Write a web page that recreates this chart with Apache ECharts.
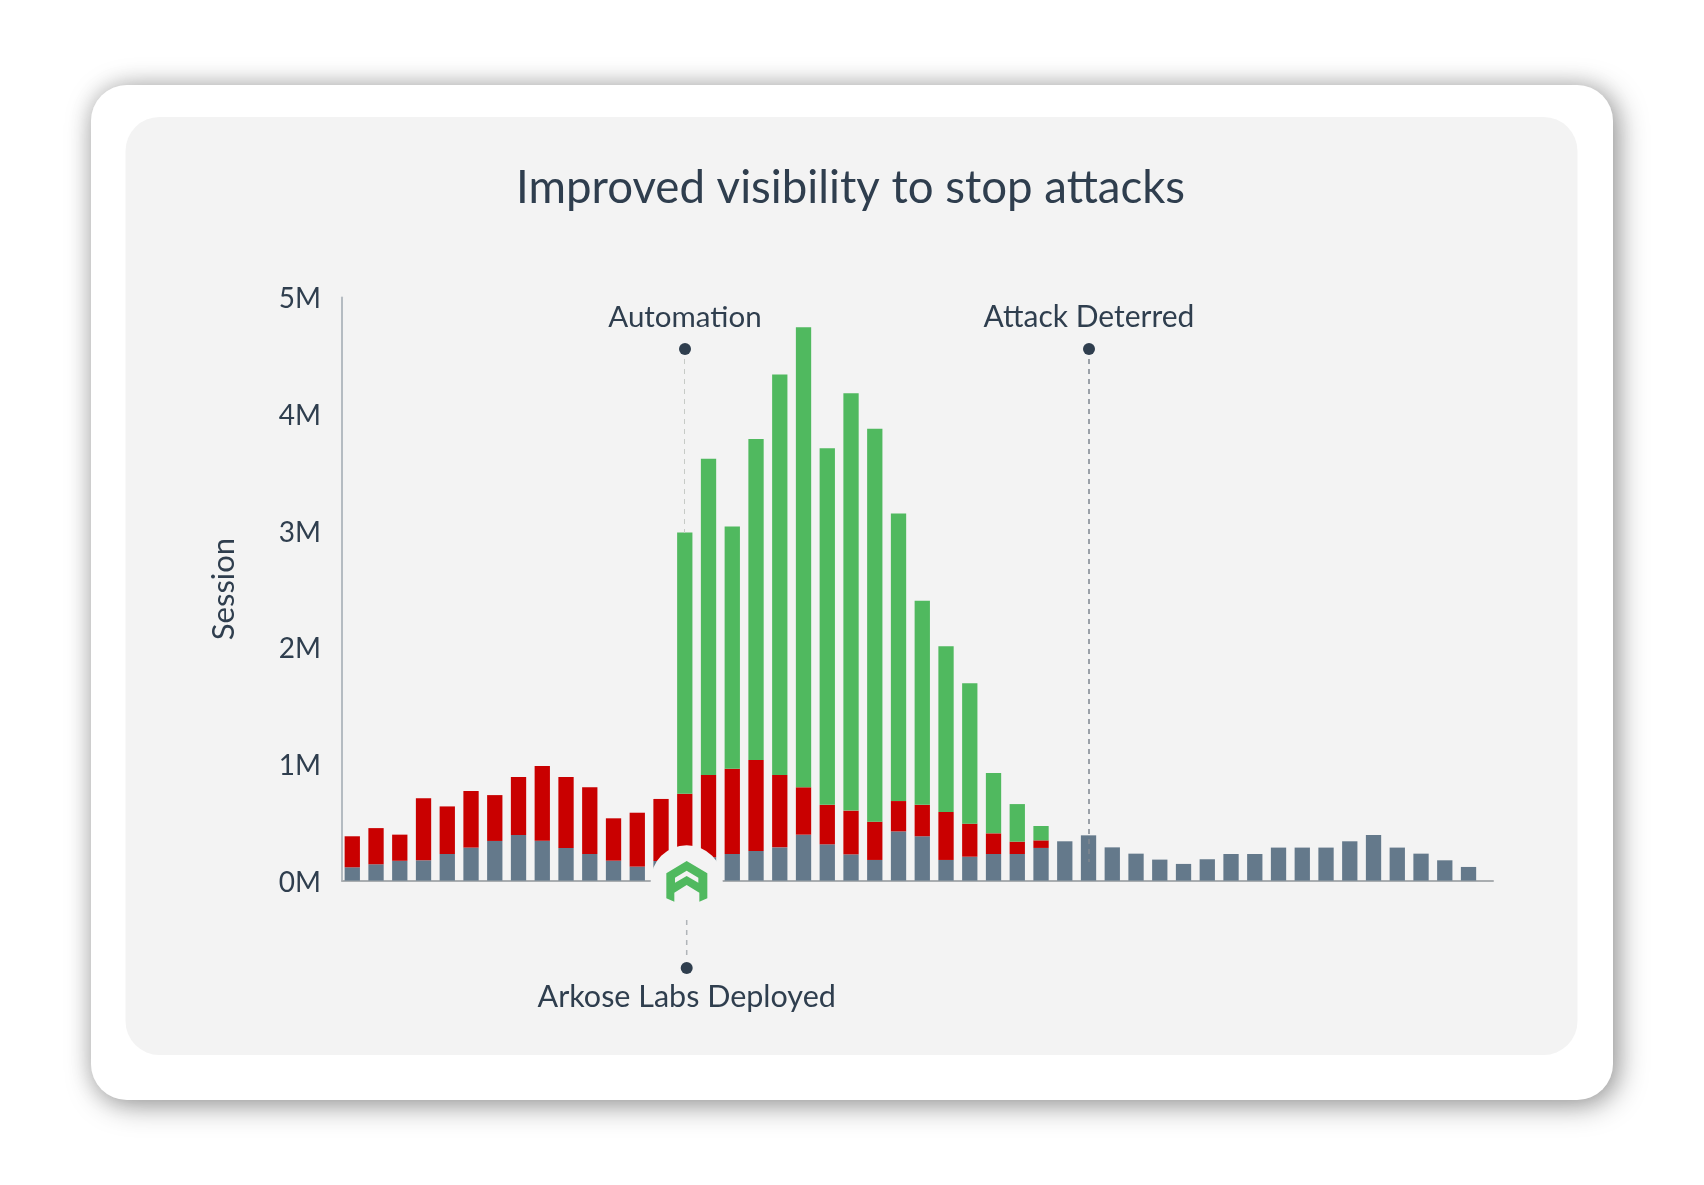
<!DOCTYPE html>
<html>
<head>
<meta charset="utf-8">
<title>Improved visibility to stop attacks</title>
<style>
html, body { margin: 0; padding: 0; background: #fff; }
#chart { width: 1704px; height: 1185px; }
</style>
<script src="https://cdn.jsdelivr.net/npm/echarts@6/dist/echarts.min.js"></script>
</head>
<body>
<div id="chart"></div>
<script>
// values in millions of sessions
var weeks = ['1','2','3','4','5','6','7','8','9','10','11','12','13','14','15','16','17','18','19','20','21','22','23','24','25','26','27','28','29','30','31','32','33','34','35','36','37','38','39','40','41','42','43','44','45','46','47','48'];
var yTicks = [0, 1, 2, 3, 4, 5];

var humanValues = [0.114,0.14,0.17,0.174,0.228,0.283,0.34,0.391,0.342,0.28,0.228,0.171,0.12,0.168,0.14,0.2,0.228,0.254,0.285,0.394,0.311,0.225,0.177,0.422,0.38,0.177,0.205,0.228,0.228,0.28,0.337,0.388,0.285,0.231,0.18,0.143,0.183,0.228,0.228,0.283,0.283,0.283,0.337,0.391,0.283,0.231,0.174,0.117];
var fraudValues = [0.266,0.31,0.224,0.531,0.408,0.485,0.393,0.497,0.64,0.608,0.572,0.363,0.462,0.532,0.605,0.705,0.731,0.779,0.62,0.406,0.339,0.375,0.328,0.26,0.27,0.411,0.283,0.177,0.106,0.065,0,0,0,0,0,0,0,0,0,0,0,0,0,0,0,0,0,0];
var automationValues = [0,0,0,0,0,0,0,0,0,0,0,0,0,0,2.24,2.711,2.077,2.754,3.435,3.945,3.057,3.578,3.368,2.466,1.75,1.422,1.205,0.517,0.322,0.123,0,0,0,0,0,0,0,0,0,0,0,0,0,0,0,0,0,0];

var textColor = '#2f3e4e';

function barSeries(name, values, color) {
	return {
		name: name,
		type: 'bar',
		stack: 'sessions',
		barWidth: 15.3,
		xAxisIndex: 0,
		yAxisIndex: 0,
		data: values,
		itemStyle: { color: color }
	};
}

function note(text, x, y, size) {
	return { type: 'text', z: 60, style: { text: text, x: x, y: y, font: size + 'px Lato', fill: textColor, align: 'center', verticalAlign: 'middle' } };
}
function dot(x, y) {
	return { type: 'circle', z: 60, shape: { cx: x, cy: y, r: 6 }, style: { fill: textColor } };
}
function dashed(x, y1, y2, color, width) {
	return { type: 'line', z: 55, shape: { x1: x, y1: y1, x2: x, y2: y2 }, style: { stroke: color, lineWidth: width, lineDash: [5, 5] } };
}
// logo coordinates are in the 3x crop space, origin 640,830
function logoPts(list) {
	return list.map(function (p) { return [640 + p[0] / 3, 830 + p[1] / 3]; });
}

var chart = echarts.init(document.getElementById('chart'));

chart.setOption({
	animation: false,
	backgroundColor: '#fff',
	title: {
		text: 'Improved visibility to stop attacks',
		left: 845.6,
		top: 160,
		textAlign: 'center',
		textStyle: { color: textColor, fontFamily: 'Lato', fontWeight: 'normal', fontSize: 45.6 }
	},
	// first grid holds the bars, second one only the visible axis lines and labels:
	// the axes run a little wider than the 48 bands
	grid: [
		{ left: 340.4, width: 1140, top: 297.4, height: 583.2 },
		{ left: 342, width: 1151, top: 297.4, height: 583.2 }
	],
	xAxis: [
		{ type: 'category', gridIndex: 0, data: weeks, show: false },
		{
			type: 'value',
			gridIndex: 1,
			min: 0,
			max: 1,
			axisLine: { show: true, lineStyle: { color: '#a9adb0', width: 2 } },
			axisTick: { show: false },
			axisLabel: { show: false },
			splitLine: { show: false }
		}
	],
	yAxis: [
		{ type: 'value', gridIndex: 0, min: 0, max: 5, show: false },
		{
			type: 'value',
			gridIndex: 1,
			min: 0,
			max: 5,
			interval: 1,
			name: 'Session',
			nameLocation: 'middle',
			nameGap: 103,
			nameTextStyle: { color: textColor, fontFamily: 'Lato', fontSize: 31 },
			axisLine: { show: true, lineStyle: { color: '#b4bbc1', width: 2 } },
			axisTick: { show: false },
			splitLine: { show: false },
			axisLabel: {
				color: textColor,
				fontFamily: 'Lato',
				fontSize: 28,
				margin: 21,
				verticalAlign: 'top',
				lineHeight: 4,
				formatter: function (v) { return yTicks[v] + 'M'; }
			}
		}
	],
	series: [
		barSeries('Human', humanValues, '#64798b'),
		barSeries('Fraud', fraudValues, '#c90000'),
		barSeries('Automation', automationValues, '#50b95f')
	],
	graphic: [
		// card, two shadows: a soft glow all round and the heavier one to the lower right
		{ type: 'rect', z: -11, shape: { x: 91, y: 85, width: 1522, height: 1015, r: 36 }, style: { fill: '#fff', shadowBlur: 22, shadowColor: 'rgba(0,0,0,0.14)' } },
		{ type: 'rect', z: -10, shape: { x: 91, y: 85, width: 1522, height: 1015, r: 36 }, style: { fill: '#fff', shadowBlur: 30, shadowOffsetX: 5, shadowOffsetY: 5, shadowColor: 'rgba(0,0,0,0.38)' } },
		{ type: 'rect', z: -9, shape: { x: 125.5, y: 117, width: 1452, height: 938, r: 34 }, style: { fill: '#f3f3f3' } },
		// annotations
		dashed(684.5, 349, 533, '#c6cac6', 1),
		dot(685, 349),
		note('Automation', 685, 317, 29.5),
		dashed(1089, 349, 862, '#7f8790', 1.5),
		dot(1089, 349),
		note('Attack Deterred', 1089, 317, 30),
		// logo
		{ type: 'circle', z: 50, shape: { cx: 686.7, cy: 881.3, r: 36 }, style: { fill: '#f3f3f3' } },
		{ type: 'polygon', z: 51, shape: { points: logoPts([[140,93],[202,130],[202,205],[178,215],[178,188],[140,165],[103,188],[103,215],[79,205],[79,130]]) }, style: { fill: '#50b95f' } },
		{ type: 'polygon', z: 52, shape: { points: logoPts([[140,122],[175,143],[175,158],[140,138],[105,158],[105,143]]) }, style: { fill: '#f3f3f3' } },
		dashed(686.7, 920, 957, '#b0b4b8', 1.5),
		dot(686.7, 968),
		note('Arkose Labs Deployed', 686.7, 997, 30.5)
	]
});

window.onresize = function () {
	chart.resize();
};
</script>
</body>
</html>
